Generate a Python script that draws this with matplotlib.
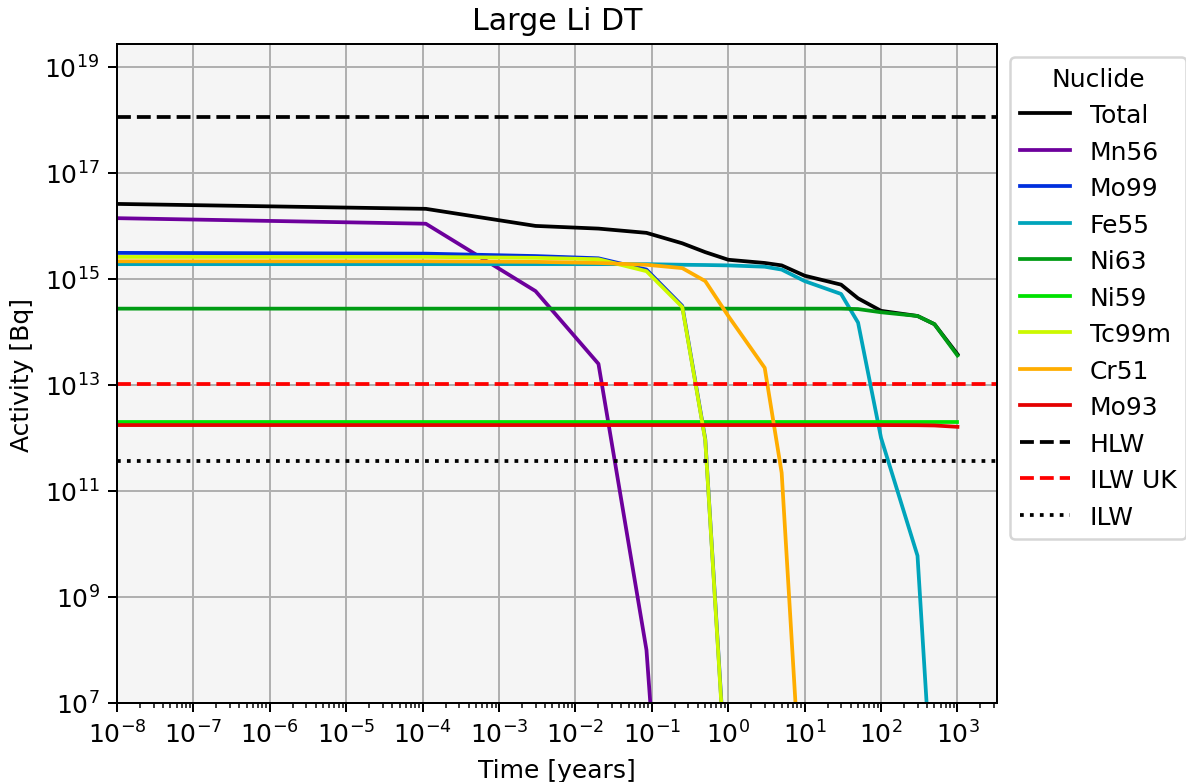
import numpy as np
import matplotlib
matplotlib.use('Agg')
import matplotlib.pyplot as plt
from matplotlib.ticker import LogLocator, NullFormatter

times=[1e-8,1.1e-4,3e-3,2e-2,8.5e-2,0.25,0.5,1,3,5,10,30,50,100,300,500,1000]

total=[2.6e16,2.1e16,1.0e16,8.9e15,7.4e15,4.7e15,3.2e15,2.3e15,2.0e15,1.8e15,1.15e15,7.8e14,4.3e14,2.5e14,2.0e14,1.4e14,3.8e13]
mn56=[1.4e16,1.1e16,5.9e14,2.5e13,1.0e8,5e-2,1e-12,1e-20,1e-30,1e-30,1e-30,1e-30,1e-30,1e-30,1e-30,1e-30,1e-30]
mo99=[3.1e15,3.0e15,2.7e15,2.45e15,1.5e15,3.1e14,9.5e11,8e4,1e-10,1e-20,1e-30,1e-30,1e-30,1e-30,1e-30,1e-30,1e-30]
fe55=[1.9e15,1.9e15,1.9e15,1.9e15,1.9e15,1.85e15,1.83e15,1.8e15,1.7e15,1.5e15,9.1e14,5.2e14,1.5e14,1.0e12,6e9,4e4,1e-2]
ni63=[2.75e14,2.75e14,2.75e14,2.75e14,2.75e14,2.75e14,2.75e14,2.75e14,2.75e14,2.75e14,2.75e14,2.75e14,2.7e14,2.35e14,2.0e14,1.4e14,3.6e13]
ni59=[2.0e12]*len(times)
tc99m=[2.6e15,2.6e15,2.5e15,2.35e15,1.4e15,2.95e14,9.1e11,7e4,1e-10,1e-20,1e-30,1e-30,1e-30,1e-30,1e-30,1e-30,1e-30]
cr51=[2.15e15,2.15e15,2.1e15,2.0e15,1.85e15,1.6e15,9.1e14,2.0e14,2.1e13,2.2e11,1.3e4,1e-20,1e-30,1e-30,1e-30,1e-30,1e-30]
mo93=[1.75e12,1.75e12,1.75e12,1.75e12,1.75e12,1.75e12,1.75e12,1.75e12,1.75e12,1.75e12,1.75e12,1.75e12,1.75e12,1.75e12,1.74e12,1.72e12,1.62e12]

names=['Total','Mn56','Mo99','Fe55','Ni63','Ni59','Tc99m','Cr51','Mo93']
series=[total,mn56,mo99,fe55,ni63,ni59,tc99m,cr51,mo93]

hlw=1.15e18
ilw_uk=1.05e13
ilw=3.6e11

colors=plt.cm.nipy_spectral(np.linspace(0,1,10))

fig=plt.figure(figsize=(1186/180,783/180),dpi=180)
ax=fig.add_axes([0.0987,0.1009,0.7420,0.8416])
ax.set_facecolor('whitesmoke')

for i,(nm,vals) in enumerate(zip(names,series)):
    ax.plot(times,vals,color=colors[i],label=nm)

ax.axhline(hlw,color='k',ls='--',label='HLW')
ax.axhline(ilw_uk,color='r',ls='--',label='ILW UK')
ax.axhline(ilw,color='k',ls=':',label='ILW')

ax.set_xscale('log')
ax.set_yscale('log')
ax.set_xlim(1e-8,3.3e3)
ax.set_ylim(1e7,2.7e19)
ax.xaxis.set_major_locator(LogLocator(base=10,numticks=20))
ax.xaxis.set_minor_locator(LogLocator(base=10,subs=np.arange(2,10),numticks=20))
ax.xaxis.set_minor_formatter(NullFormatter())
ax.grid(True)
ax.set_title('Large Li DT',fontsize=12)
ax.set_xlabel('Time [years]')
ax.set_ylabel('Activity [Bq]')
ax.legend(title='Nuclide',loc='upper left',bbox_to_anchor=(1,1))

fig.savefig('out.png',dpi=180)
